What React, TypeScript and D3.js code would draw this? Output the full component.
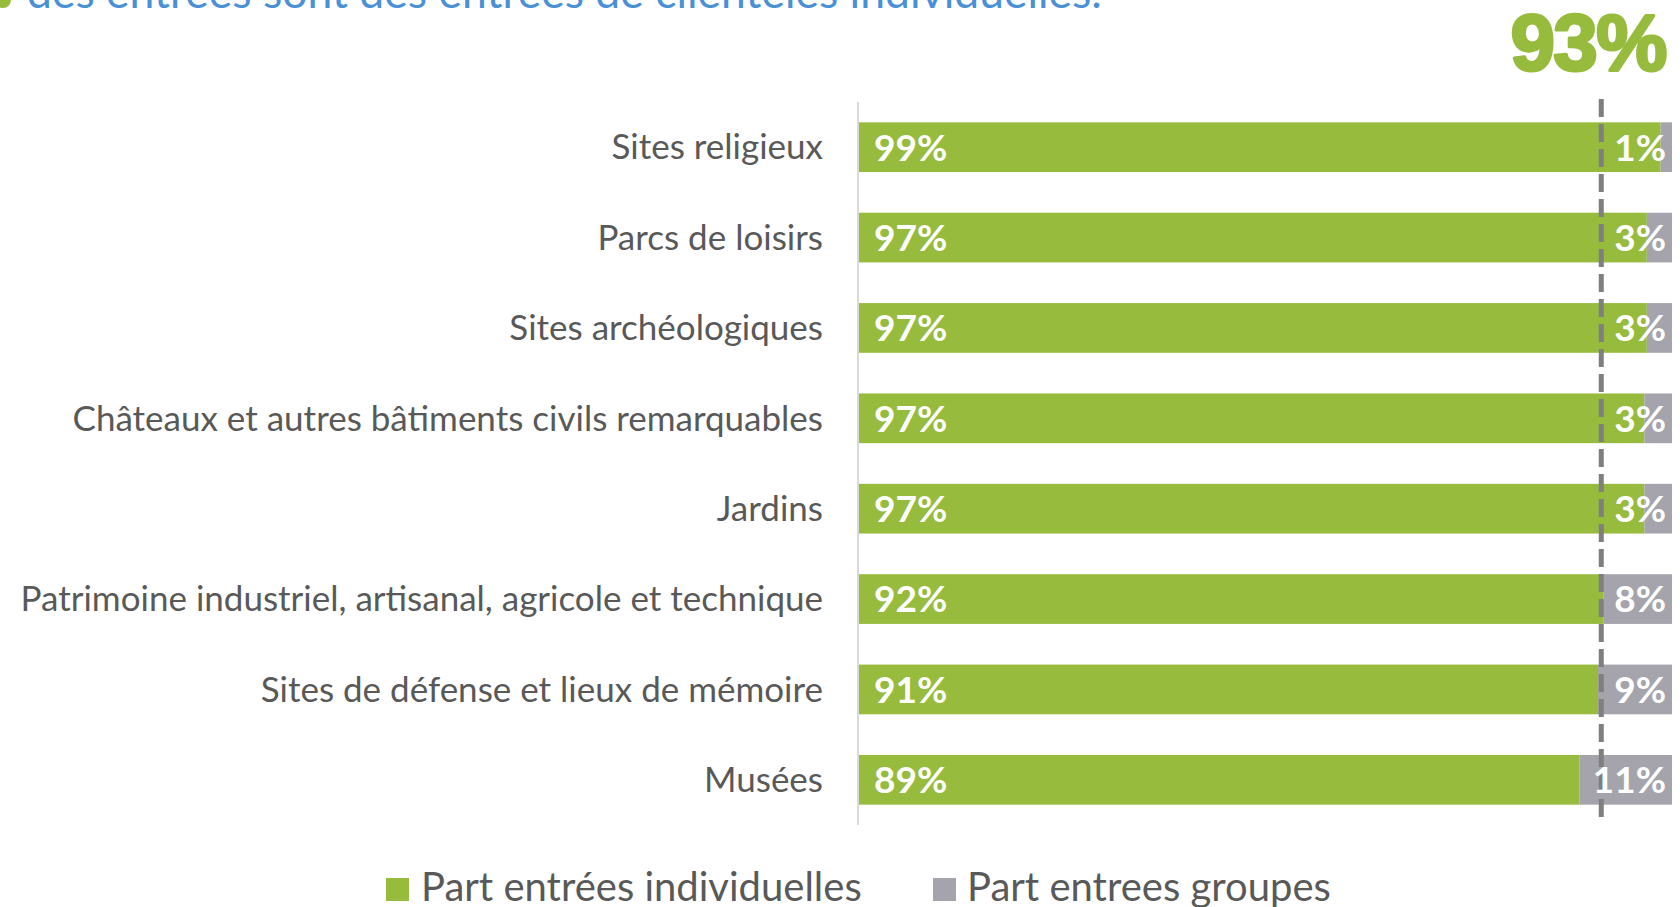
import React from "react";
import * as d3 from "d3";

const categories = [
  "Sites religieux",
  "Parcs de loisirs",
  "Sites archéologiques",
  "Châteaux et autres bâtiments civils remarquables",
  "Jardins",
  "Patrimoine industriel, artisanal, agricole et technique",
  "Sites de défense et lieux de mémoire",
  "Musées",
];
const individual = [98.6, 96.9, 96.9, 96.6, 96.6, 91.6, 90.9, 88.6];
const groups = [1.4, 3.1, 3.1, 3.4, 3.4, 8.4, 9.1, 11.4];
const seriesNames = ["Part entrées individuelles", "Part entrees groupes"];
const referenceValue = 91.3;
const headline = "93%";
const titleText = "des entrées sont des entrées de clientèles individuelles.";

const W = 1680;
const H = 907;
const GREEN = "#97BB3D";
const GRAY = "#A5A4AC";
const TEXT = "#595959";
const FONT = "Lato, 'Open Sans', sans-serif";

export default function App() {
  const x = d3.scaleLinear().domain([0, 100]).range([859, 1672]);
  const y = d3
    .scaleBand<string>()
    .domain(categories)
    .range([102, 825])
    .paddingInner(0.45)
    .paddingOuter(0.225);
  const bw = y.bandwidth();

  return (
    <svg
      width={W}
      height={H}
      style={{ position: "absolute", left: 0, top: 0, display: "block" }}
    >
      <rect width={W} height={H} fill="#fff" />
      {/* title (cropped) */}
      <circle cx={3} cy={0} r={8} fill={GREEN} />
      <text x={27} y={8} fontFamily={FONT} fontSize={44.5} fill="#4A90D6">
        {titleText}
      </text>
      <text
        x={1666}
        y={70}
        textAnchor="end"
        fontFamily="'Liberation Sans', Arial, sans-serif"
        fontWeight={900}
        fontSize={80}
        fill={GREEN}
        stroke={GREEN}
        strokeWidth={3}
        strokeLinejoin="round"
        letterSpacing={-1.5}
      >
        {headline}
      </text>

      {/* axis line */}
      <line x1={858} x2={858} y1={102} y2={825} stroke="#D9D9D9" strokeWidth={2} />

      {categories.map((c, i) => {
        const yy = y(c) as number;
        const cy = yy + bw / 2;
        return (
          <g key={c}>
            <text
              x={823}
              y={cy}
              dy="0.35em"
              textAnchor="end"
              fontFamily={FONT}
              fontSize={35}
              fill={TEXT}
            >
              {c}
            </text>
            <rect
              x={x(0)}
              y={yy}
              width={x(individual[i]) - x(0)}
              height={bw}
              fill={GREEN}
            />
            <rect
              x={x(individual[i])}
              y={yy}
              width={x(individual[i] + groups[i]) - x(individual[i])}
              height={bw}
              fill={GRAY}
            />
          </g>
        );
      })}

      {/* reference dashed line */}
      <line
        x1={x(referenceValue)}
        x2={x(referenceValue)}
        y1={99}
        y2={820}
        stroke="#7F7F7F"
        strokeWidth={5}
        strokeDasharray="18 7"
      />

      {categories.map((c, i) => {
        const cy = (y(c) as number) + bw / 2;
        return (
          <g key={"l" + c}>
            <text
              x={x(0) + 15}
              y={cy}
              dy="0.36em"
              fontFamily={FONT}
              fontWeight={700}
              fontSize={37}
              fill="#fff"
            >
              {Math.round(individual[i])}%
            </text>
            <text
              x={x(100) - 6}
              y={cy}
              dy="0.36em"
              textAnchor="end"
              fontFamily={FONT}
              fontWeight={700}
              fontSize={37}
              fill="#fff"
            >
              {Math.round(groups[i])}%
            </text>
          </g>
        );
      })}

      {/* legend */}
      <g>
        <rect x={386} y={878} width={23} height={23} fill={GREEN} />
        <text x={421} y={901} fontFamily={FONT} fontSize={40} fill={TEXT}>
          {seriesNames[0]}
        </text>
        <rect x={933} y={878} width={23} height={23} fill={GRAY} />
        <text x={967} y={901} fontFamily={FONT} fontSize={40} fill={TEXT}>
          {seriesNames[1]}
        </text>
      </g>
    </svg>
  );
}
